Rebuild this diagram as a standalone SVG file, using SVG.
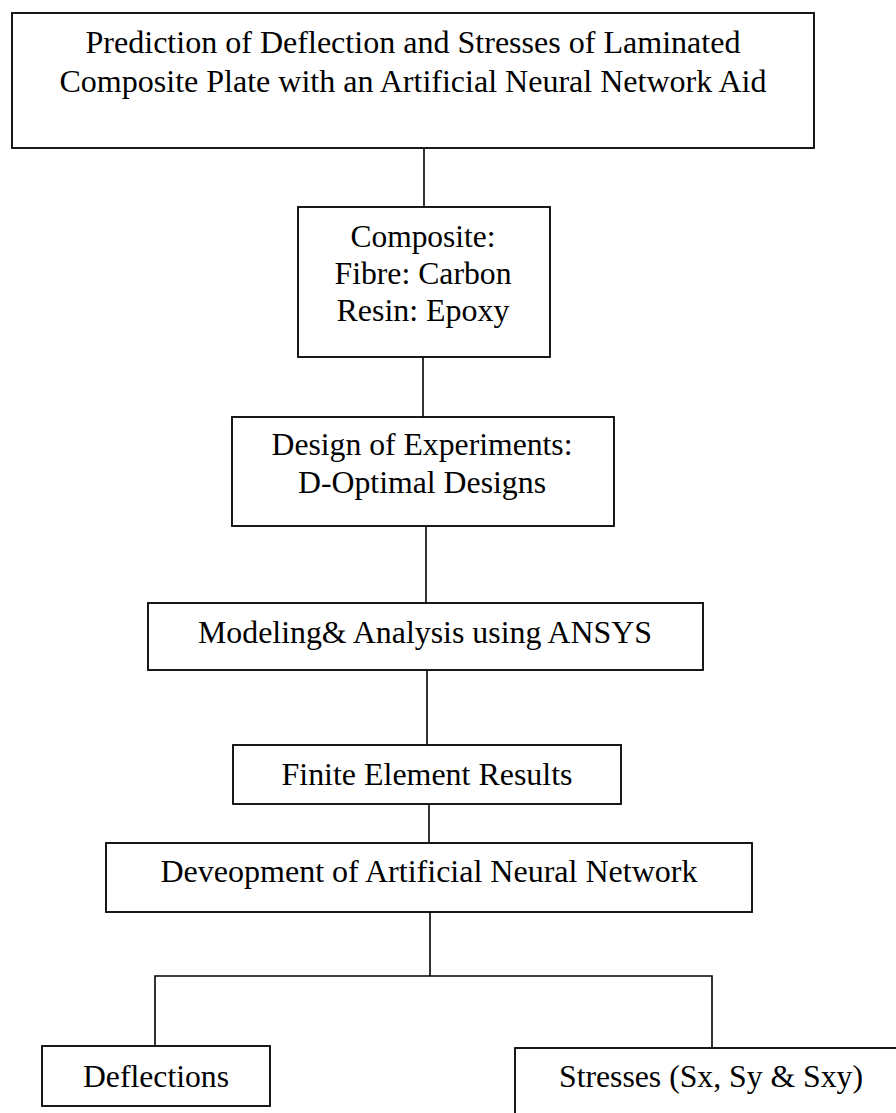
<svg xmlns="http://www.w3.org/2000/svg" width="896" height="1113" viewBox="0 0 896 1113">
<style>
.box{fill:#fff;stroke:#000;stroke-width:1.8}
.ln{fill:none;stroke:#000;stroke-width:1.6}
text{font-family:"Liberation Serif","Times New Roman",serif;font-size:31px;fill:#000;text-anchor:middle}
</style>
<rect width="896" height="1113" fill="#fff"/>
<g id="connectors">
<line class="ln" x1="424" y1="148" x2="424" y2="207"/>
<line class="ln" x1="423" y1="357" x2="423" y2="417"/>
<line class="ln" x1="426" y1="526" x2="426" y2="603"/>
<line class="ln" x1="427" y1="670" x2="427" y2="745"/>
<line class="ln" x1="429" y1="804" x2="429" y2="843"/>
<polyline class="ln" points="155,1046 155,976 712,976 712,1048"/>
<line class="ln" x1="430" y1="912" x2="430" y2="976"/>
</g>
<g id="n-title">
<rect class="box" x="12" y="13" width="802" height="135"/>
<text x="413" y="53" textLength="655" lengthAdjust="spacingAndGlyphs">Prediction of Deflection and Stresses of Laminated</text>
<text x="413" y="92" textLength="707" lengthAdjust="spacingAndGlyphs">Composite Plate with an Artificial Neural Network Aid</text>
</g>
<g id="n-composite">
<rect class="box" x="298" y="207" width="252" height="150"/>
<text x="423" y="247" textLength="145" lengthAdjust="spacingAndGlyphs">Composite:</text>
<text x="423" y="284" textLength="177" lengthAdjust="spacingAndGlyphs">Fibre: Carbon</text>
<text x="423" y="321" textLength="173" lengthAdjust="spacingAndGlyphs">Resin: Epoxy</text>
</g>
<g id="n-doe">
<rect class="box" x="232" y="417" width="382" height="109"/>
<text x="422" y="455" textLength="301" lengthAdjust="spacingAndGlyphs">Design of Experiments:</text>
<text x="422" y="493" textLength="248" lengthAdjust="spacingAndGlyphs">D-Optimal Designs</text>
</g>
<g id="n-ansys">
<rect class="box" x="148" y="603" width="555" height="67"/>
<text x="425" y="643" textLength="454" lengthAdjust="spacingAndGlyphs">Modeling&amp; Analysis using ANSYS</text>
</g>
<g id="n-fe">
<rect class="box" x="233" y="745" width="388" height="59"/>
<text x="427" y="785" textLength="291" lengthAdjust="spacingAndGlyphs">Finite Element Results</text>
</g>
<g id="n-ann">
<rect class="box" x="106" y="843" width="646" height="69"/>
<text x="429" y="882" textLength="537" lengthAdjust="spacingAndGlyphs">Deveopment of Artificial Neural Network</text>
</g>
<g id="n-deflections">
<rect class="box" x="42" y="1046" width="228" height="60"/>
<text x="156" y="1087" textLength="146" lengthAdjust="spacingAndGlyphs">Deflections</text>
</g>
<g id="n-stresses">
<rect class="box" x="515" y="1048" width="420" height="100"/>
<text x="711" y="1087" textLength="304" lengthAdjust="spacingAndGlyphs">Stresses (Sx, Sy &amp; Sxy)</text>
</g>
</svg>
